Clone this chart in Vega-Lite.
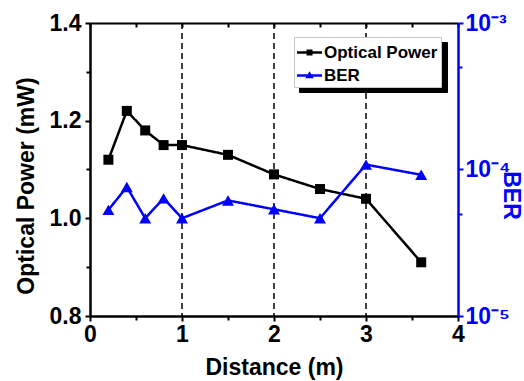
{
  "$schema": "https://vega.github.io/schema/vega-lite/v6.json",
  "width": 368,
  "height": 293,
  "autosize": {"type": "none"},
  "padding": {"left": 90, "top": 23, "right": 66, "bottom": 65},
  "background": "white",
  "config": {
    "view": {"stroke": null},
    "font": "Liberation Sans",
    "axis": {
      "labelFont": "Liberation Sans",
      "titleFont": "Liberation Sans",
      "labelFontWeight": "bold",
      "titleFontWeight": "bold",
      "labelColor": "black",
      "titleColor": "black",
      "domainColor": "black",
      "tickColor": "black",
      "grid": false,
      "labelFontSize": 23,
      "titleFontSize": 23
    }
  },
  "datasets": {
    "power": [
      {"d": 0.2, "p": 1.12, "series": "Optical Power"},
      {"d": 0.4, "p": 1.22, "series": "Optical Power"},
      {"d": 0.6, "p": 1.18, "series": "Optical Power"},
      {"d": 0.8, "p": 1.15, "series": "Optical Power"},
      {"d": 1.0, "p": 1.15, "series": "Optical Power"},
      {"d": 1.5, "p": 1.13, "series": "Optical Power"},
      {"d": 2.0, "p": 1.09, "series": "Optical Power"},
      {"d": 2.5, "p": 1.06, "series": "Optical Power"},
      {"d": 3.0, "p": 1.04, "series": "Optical Power"},
      {"d": 3.6, "p": 0.91, "series": "Optical Power"}
    ],
    "ber": [
      {"d": 0.2, "b": 5.3e-5, "series": "BER"},
      {"d": 0.4, "b": 7.6e-5, "series": "BER"},
      {"d": 0.6, "b": 4.65e-5, "series": "BER"},
      {"d": 0.8, "b": 6.35e-5, "series": "BER"},
      {"d": 1.0, "b": 4.65e-5, "series": "BER"},
      {"d": 1.5, "b": 6.15e-5, "series": "BER"},
      {"d": 2.0, "b": 5.35e-5, "series": "BER"},
      {"d": 2.5, "b": 4.65e-5, "series": "BER"},
      {"d": 3.0, "b": 1.08e-4, "series": "BER"},
      {"d": 3.6, "b": 9.2e-5, "series": "BER"}
    ],
    "grid": [{"d": 1}, {"d": 2}, {"d": 3}]
  },
  "resolve": {
    "scale": {"y": "independent"},
    "axis": {"x": "independent", "y": "independent"}
  },
  "layer": [
    {
      "data": {"name": "grid"},
      "mark": {"type": "rule", "strokeDash": [6, 4], "strokeWidth": 1.5, "color": "black"},
      "encoding": {
        "x": {
          "field": "d", "type": "quantitative",
          "scale": {"domain": [0, 4], "nice": false, "zero": false},
          "axis": {
            "orient": "bottom", "values": [0, 1, 2, 3, 4], "format": "d",
            "title": "Distance (m)", "domainWidth": 2.5, "tickWidth": 2, "tickSize": 5,
            "labelPadding": 2, "labelFlush": false,
            "titleX": 184, "titleY": 58.5, "titleBaseline": "alphabetic", "titleAngle": 0
          }
        }
      }
    },
    {
      "data": {"name": "power"},
      "mark": {"type": "line", "color": "black", "strokeWidth": 2.5},
      "encoding": {
        "x": {
          "field": "d", "type": "quantitative",
          "scale": {"domain": [0, 4], "nice": false, "zero": false},
          "axis": {
            "orient": "top", "values": [0, 0.5, 1, 1.5, 2, 2.5, 3, 3.5, 4],
            "labels": false, "title": null, "tickSize": -4, "tickWidth": 2, "domainWidth": 2
          }
        },
        "y": {
          "field": "p", "type": "quantitative",
          "scale": {"domain": [0.8, 1.4], "nice": false, "zero": false},
          "axis": {
            "orient": "left", "values": [0.8, 1.0, 1.2, 1.4], "format": ".1f",
            "title": "Optical Power (mW)", "domainWidth": 2.5, "tickWidth": 2, "tickSize": 5,
            "labelPadding": 4, "labelFlush": false,
            "titleAngle": -90, "titleBaseline": "alphabetic", "titleX": -56.5, "titleY": 162.5
          }
        },
        "strokeDash": {
          "field": "series", "type": "nominal", "sort": ["Optical Power", "BER"],
          "scale": {"range": [[1, 0], [1, 0]]},
          "legend": {
            "title": null, "orient": "none", "legendX": 209, "legendY": 19,
            "fillColor": "#000000", "strokeColor": "#000000",
            "padding": 3, "labelFont": "Liberation Sans", "labelFontWeight": "bold",
            "labelFontSize": 17, "labelColor": "#000000", "labelExpr": "' '", "symbolSize": 625,
            "symbolType": {"expr": "datum.value === 'BER' ? 'M-1,-0.1H1V0.1H-1Z M0,-0.34L0.34,0.22H-0.34Z' : 'M-1,-0.1H1V0.1H-1Z M-0.24,-0.24H0.24V0.24H-0.24Z'"},
            "labelOffset": 117, "rowPadding": 2, "symbolStrokeWidth": 0, "symbolOpacity": 0, "zindex": 1
          }
        }
      }
    },
    {
      "data": {"name": "power"},
      "mark": {"type": "point", "filled": true, "shape": "square", "size": 100, "opacity": 1},
      "encoding": {
        "x": {
          "field": "d", "type": "quantitative",
          "scale": {"domain": [0, 4], "nice": false, "zero": false},
          "axis": {
            "orient": "bottom", "values": [0.5, 1.5, 2.5, 3.5],
            "labels": false, "title": null, "domain": false, "tickSize": 4, "tickWidth": 2
          }
        },
        "y": {
          "field": "p", "type": "quantitative",
          "scale": {"domain": [0.8, 1.4], "nice": false, "zero": false},
          "axis": {
            "orient": "left", "values": [0.9, 1.1, 1.3],
            "labels": false, "title": null, "domain": false, "tickSize": 4, "tickWidth": 2
          }
        },
        "color": {
          "field": "series", "type": "nominal",
          "scale": {"domain": ["Optical Power", "BER"], "range": ["#000000", "#0000ff"]},
          "legend": {
            "title": null, "orient": "none", "legendX": 204, "legendY": 14,
            "fillColor": "white", "strokeColor": "#c8c8c8",
            "padding": 3, "labelFont": "Liberation Sans", "labelFontWeight": "bold",
            "labelFontSize": 17, "labelColor": "black", "symbolSize": 625,
            "symbolType": {"expr": "datum.value === 'BER' ? 'M-1,-0.1H1V0.1H-1Z M0,-0.34L0.34,0.22H-0.34Z' : 'M-1,-0.1H1V0.1H-1Z M-0.24,-0.24H0.24V0.24H-0.24Z'"},
            "labelOffset": 2, "rowPadding": 2, "symbolStrokeWidth": 0, "zindex": 2
          }
        }
      }
    },
    {
      "data": {"name": "ber"},
      "mark": {"type": "line", "color": "#0000ff", "strokeWidth": 2.5},
      "encoding": {
        "x": {
          "field": "d", "type": "quantitative",
          "scale": {"domain": [0, 4], "nice": false, "zero": false},
          "axis": null
        },
        "y": {
          "field": "b", "type": "quantitative",
          "scale": {"type": "log", "domain": [1e-5, 1e-3], "nice": false},
          "axis": {
            "orient": "right", "values": [1e-5, 1e-4, 1e-3],
            "labelExpr": "datum.value < 5e-5 ? '10⁻⁵' : (datum.value < 5e-4 ? '10⁻⁴' : '10⁻³')",
            "title": "BER", "domainWidth": 2.5, "tickWidth": 2, "tickSize": 5,
            "labelPadding": 2, "labelFlush": false,
            "domainColor": "#0000ff", "tickColor": "#0000ff", "labelColor": "#0000ff", "titleColor": "#0000ff",
            "titleAngle": 90, "titleBaseline": "alphabetic", "titleX": 45, "titleY": 172
          }
        },
        "strokeDash": {
          "field": "series", "type": "nominal", "sort": ["Optical Power", "BER"],
          "scale": {"range": [[1, 0], [1, 0]]}
        }
      }
    },
    {
      "data": {"name": "ber"},
      "mark": {"type": "point", "filled": true, "shape": "triangle-up", "size": 144, "opacity": 1},
      "encoding": {
        "x": {
          "field": "d", "type": "quantitative",
          "scale": {"domain": [0, 4], "nice": false, "zero": false},
          "axis": null
        },
        "y": {
          "field": "b", "type": "quantitative",
          "scale": {"type": "log", "domain": [1e-5, 1e-3], "nice": false},
          "axis": {
            "orient": "right", "values": [5e-5, 5e-4],
            "labels": false, "title": null, "domain": false, "tickSize": 4, "tickWidth": 2,
            "tickColor": "#0000ff"
          }
        },
        "color": {
          "field": "series", "type": "nominal",
          "scale": {"domain": ["Optical Power", "BER"], "range": ["#000000", "#0000ff"]}
        }
      }
    }
  ]
}
